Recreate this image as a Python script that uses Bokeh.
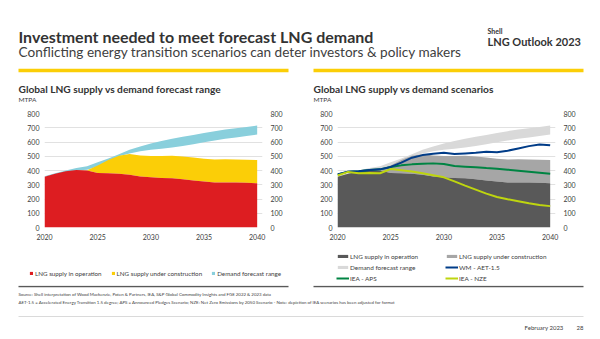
from bokeh.plotting import figure
from bokeh.models import Range1d, LinearAxis, FixedTicker, Legend, LegendItem
from bokeh.layouts import column, row
from bokeh.core.properties import value
from bokeh.embed import file_html
from bokeh.resources import INLINE

# ---------------- data ----------------
years = list(range(2020, 2041))
supply_operation = [357, 378, 395, 404, 400, 383, 380, 378, 370, 358, 353, 348, 345, 339, 329, 322, 316, 315, 316, 314, 310]
supply_total = [357, 378, 395, 404, 402, 435, 473, 503, 516, 506, 501, 501, 503, 499, 491, 482, 477, 479, 477, 475, 474]
demand_low = [357, 372, 390, 400, 406, 428, 466, 500, 520, 535, 545, 553, 562, 572, 585, 598, 610, 622, 632, 642, 652]
demand_high = [359, 380, 400, 417, 430, 458, 484, 514, 545, 568, 590, 607, 622, 636, 650, 664, 676, 687, 697, 706, 715]
wm_aet15 = [373, 392, 394, 403, 408, 425, 455, 490, 508, 518, 525, 516, 520, 524, 531, 528, 539, 555, 571, 583, 577]
iea_aps = [373, 392, 394, 403, 408, 425, 436, 443, 447, 450, 446, 431, 427, 422, 417, 413, 406, 399, 392, 385, 378]
iea_nze = [365, 390, 380, 382, 381, 410, 402, 393, 380, 367, 352, 324, 294, 266, 238, 214, 198, 184, 170, 158, 150]

x_ticks = [2020, 2025, 2030, 2035, 2040]
y_ticks = [0, 100, 200, 300, 400, 500, 600, 700, 800]

FONT = "Lato"
TXT = "#404040"
HEAD = "#333333"

RED, YELLOW, CYAN = "#dd1d21", "#fbce07", "#89cfdc"
DARK, MID, LIGHT = "#595959", "#a6a6a6", "#d9d9d9"
NAVY, GREEN, LIME = "#003c88", "#008443", "#bed50f"

NAN = [float("nan")]  # legend keys carry no visible mark


def text_fig(w, h):
    p = figure(width=w, height=h, x_range=Range1d(0, w), y_range=Range1d(h, 0),
               min_border=0, toolbar_location=None, output_backend="svg")
    p.axis.visible = False
    p.grid.visible = False
    p.outline_line_color = None
    return p


def txt(p, x, y, s, size, bold=False, color=TXT, align="left"):
    p.text(x=[x], y=[y], text=[s], text_font=value(FONT), text_font_size=size,
           text_font_style="bold" if bold else "normal", text_color=color,
           text_baseline="alphabetic", text_align=align)


# ---------------- header ----------------
head = text_fig(600, 103)
txt(head, 18, 36, "Investment needed to meet forecast LNG demand", "16px", True, HEAD)
txt(head, 18, 51, "Conflicting energy transition scenarios can deter investors & policy makers", "13.6px", False, TXT)
txt(head, 487, 30, "Shell", "7px", True, HEAD)
txt(head, 487, 41, "LNG Outlook 2023", "11px", True, HEAD)
head.segment(x0=[18, 313], y0=[70, 70], x1=[288, 583], y1=[70, 70], line_color=YELLOW, line_width=3.5)
txt(head, 18, 88.5, "Global LNG supply vs demand forecast range", "10.2px", True, HEAD)
txt(head, 313, 88.5, "Global LNG supply vs demand scenarios", "10.2px", True, HEAD)
txt(head, 18, 98.5, "MTPA", "6.5px", False, TXT)
txt(head, 313, 98.5, "MTPA", "6.5px", False, TXT)


# ---------------- charts ----------------
def chart(bl, br):
    p = figure(width=300, height=145, x_range=Range1d(2020, 2040.5), y_range=Range1d(0, 800),
               min_border_left=bl, min_border_right=br, min_border_top=10, min_border_bottom=21,
               toolbar_location=None, output_backend="svg")
    p.outline_line_color = None
    p.xgrid.visible = False
    p.ygrid.ticker = FixedTicker(ticks=y_ticks)
    p.ygrid.grid_line_color = "#d9d9d9"
    p.ygrid.grid_line_width = 0.8
    p.xaxis.ticker = FixedTicker(ticks=x_ticks)
    p.yaxis.ticker = FixedTicker(ticks=y_ticks)
    p.add_layout(LinearAxis(ticker=FixedTicker(ticks=y_ticks)), "right")
    for ax in p.axis:
        ax.axis_line_color = None
        ax.major_tick_line_color = None
        ax.major_tick_out = 0
        ax.major_tick_in = 0
        ax.minor_tick_line_color = None
        ax.minor_tick_out = 0
        ax.major_label_text_font = FONT
        ax.major_label_text_font_size = "7px"
        ax.major_label_text_color = TXT
    p.xaxis.major_label_standoff = 6
    p.left[0].major_label_standoff = 5
    p.right[0].major_label_standoff = 8
    return p


def legend_fig():
    p = figure(width=300, height=37, x_range=Range1d(0, 1), y_range=Range1d(0, 1),
               min_border=0, toolbar_location=None, output_backend="svg")
    p.axis.visible = False
    p.grid.visible = False
    p.outline_line_color = None
    return p


def legend(items, loc, glyph_w, glyph_h, spacing, standoff, size, **kw):
    return Legend(items=items, location=loc,
                  glyph_width=glyph_w, glyph_height=glyph_h, label_height=8,
                  label_standoff=standoff, spacing=spacing, padding=0, margin=0,
                  label_text_font=FONT, label_text_font_size=size, label_text_color=TXT,
                  border_line_color=None, background_fill_alpha=0, **kw)


left = chart(44, 38)
left.varea(x=years, y1=demand_low, y2=demand_high, fill_color=CYAN)
left.varea(x=years, y1=supply_operation, y2=supply_total, fill_color=YELLOW)
left.varea(x=years, y1=0, y2=supply_operation, fill_color=RED)

right = chart(37, 45)
right.varea(x=years, y1=demand_low, y2=demand_high, fill_color=LIGHT)
right.varea(x=years, y1=supply_operation, y2=supply_total, fill_color=MID)
right.varea(x=years, y1=0, y2=supply_operation, fill_color=DARK)
right.line(x=years, y=iea_aps, line_color=GREEN, line_width=2)
right.line(x=years, y=wm_aet15, line_color=NAVY, line_width=2)
right.line(x=years, y=iea_nze, line_color=LIME, line_width=2)

# legend keys (styled like the chart renderers)
leg_l = legend_fig()
k_op = leg_l.varea(x=NAN, y1=NAN, y2=NAN, fill_color=RED)
k_con = leg_l.varea(x=NAN, y1=NAN, y2=NAN, fill_color=YELLOW)
k_dem = leg_l.varea(x=NAN, y1=NAN, y2=NAN, fill_color=CYAN)
leg_l.add_layout(legend([
    LegendItem(label="LNG supply in operation", renderers=[k_op]),
    LegendItem(label="LNG supply under construction", renderers=[k_con]),
    LegendItem(label="Demand forecast range", renderers=[k_dem]),
], (29, 8), 4, 4, 9, 2, "6.25px", orientation="horizontal"))

leg_r = legend_fig()
kg_op = leg_r.varea(x=NAN, y1=NAN, y2=NAN, fill_color=DARK)
kg_dem = leg_r.varea(x=NAN, y1=NAN, y2=NAN, fill_color=LIGHT)
kl_aps = leg_r.line(x=NAN, y=NAN, line_color=GREEN, line_width=2)
kg_con = leg_r.varea(x=NAN, y1=NAN, y2=NAN, fill_color=MID)
kl_wm = leg_r.line(x=NAN, y=NAN, line_color=NAVY, line_width=2)
kl_nze = leg_r.line(x=NAN, y=NAN, line_color=LIME, line_width=2)
leg_r.add_layout(legend([
    LegendItem(label="LNG supply in operation", renderers=[kg_op]),
    LegendItem(label="Demand forecast range", renderers=[kg_dem]),
    LegendItem(label="IEA - APS", renderers=[kl_aps]),
], (36, 3), 13, 4, 3, 1, "6.4px", orientation="vertical"))
leg_r.add_layout(legend([
    LegendItem(label="LNG supply under construction", renderers=[kg_con]),
    LegendItem(label="WM - AET-1.5", renderers=[kl_wm]),
    LegendItem(label="IEA - NZE", renderers=[kl_nze]),
], (145, 3), 13, 4, 3, 1, "6.4px", orientation="vertical"))

# ---------------- footer ----------------
foot = text_fig(600, 54)
foot.segment(x0=[18, 313], y0=[1, 1], x1=[288, 583], y1=[1, 1], line_color="#595959", line_width=1.5)
txt(foot, 18, 9, "Source: Shell interpretation of Wood Mackenzie, Poten & Partners, IEA, S&P Global Commodity Insights and FGE 2022 & 2023 data", "4.4px")
txt(foot, 18, 17, "AET-1.5 = Accelerated Energy Transition 1.5 degree; APS = Announced Pledges Scenario; NZE: Net Zero Emissions by 2050 Scenario - Note: depiction of IEA scenarios has been adjusted for format", "4.4px")
foot.segment(x0=[18], y0=[31], x1=[583], y1=[31], line_color="#d0d0d0", line_width=0.8)
txt(foot, 563, 42, "February 2023", "6px", align="right")
txt(foot, 583, 42, "28", "6px", align="right")

page = column(head, row(left, right), row(leg_l, leg_r), foot)
open("out.html", "w").write(file_html(page, INLINE))
